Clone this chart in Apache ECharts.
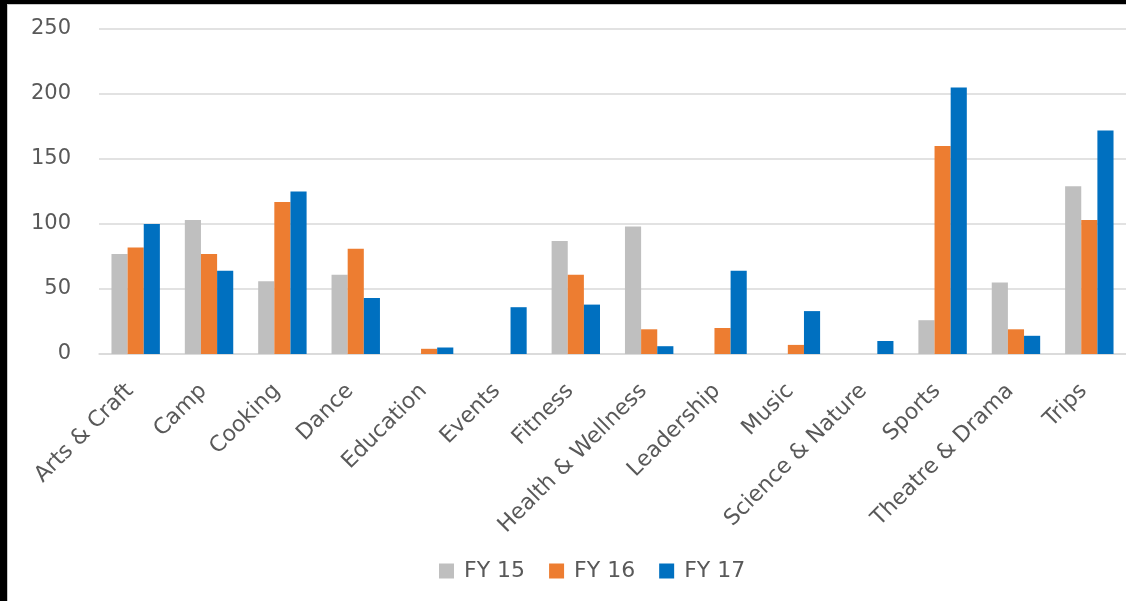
<!DOCTYPE html>
<html>
<head>
<meta charset="utf-8">
<script src="https://cdn.jsdelivr.net/npm/echarts@6/dist/echarts.min.js"></script>
<style>
  html, body { margin: 0; padding: 0; background: #000; }
  #frame {
    position: absolute; left: 7px; top: 4px; width: 1119px; height: 597px;
    background: #fff; border-left: 1px solid #c8c8c8; border-top: 1px solid #c8c8c8;
    box-sizing: border-box;
  }
  #main { position: absolute; left: 8px; top: 5px; width: 1118px; height: 596px; }
</style>
</head>
<body>
<div id="frame"></div>
<div id="main"></div>
<script>
const categories = ["Arts & Craft", "Camp", "Cooking", "Dance", "Education", "Events", "Fitness",
  "Health & Wellness", "Leadership", "Music", "Science & Nature", "Sports", "Theatre & Drama", "Trips"];
const fy15 = [77, 103, 56, 61, 0, 0, 87, 98, 0, 0, 0, 26, 55, 129];
const fy16 = [82, 77, 117, 81, 4, 0, 61, 19, 20, 7, 0, 160, 19, 103];
const fy17 = [100, 64, 125, 43, 5, 36, 38, 6, 64, 33, 10, 205, 14, 172];
const seriesNames = ["FY 15", "FY 16", "FY 17"];
const colors = ["#BFBFBF", "#ED7D31", "#0070C0"];

const textFont = "'DejaVu Sans', sans-serif";

var myChart = echarts.init(document.getElementById("main"));
myChart.setOption({
  animation: false,
  color: colors,
  grid: { left: 91, right: 0, top: 24, bottom: 247 },
  legend: {
    data: seriesNames,
    left: 426,
    top: 550,
    itemWidth: 15,
    itemHeight: 15,
    itemGap: 24,
    icon: "rect",
    textStyle: { color: "#595959", fontSize: 22, fontFamily: textFont, padding: [0, 0, 0, 5] }
  },
  xAxis: {
    type: "category",
    data: categories,
    axisTick: { show: false },
    axisLine: { lineStyle: { color: "#D9D9D9", width: 1.5 } },
    axisLabel: {
      interval: 0,
      rotate: 45,
      margin: 28,
      padding: [0, 8, 0, 0],
      color: "#595959",
      fontSize: 22,
      fontFamily: textFont
    }
  },
  yAxis: {
    type: "value",
    min: 0,
    max: 250,
    interval: 50,
    axisLine: { show: false },
    axisTick: { show: false },
    splitLine: { lineStyle: { color: "#D9D9D9", width: 1.5 } },
    axisLabel: { margin: 28, color: "#595959", fontSize: 21, fontFamily: textFont }
  },
  series: [
    { name: seriesNames[0], type: "bar", data: fy15, barGap: "0%", barCategoryGap: "34%" },
    { name: seriesNames[1], type: "bar", data: fy16, barGap: "0%", barCategoryGap: "34%" },
    { name: seriesNames[2], type: "bar", data: fy17, barGap: "0%", barCategoryGap: "34%" }
  ]
});
</script>
</body>
</html>
